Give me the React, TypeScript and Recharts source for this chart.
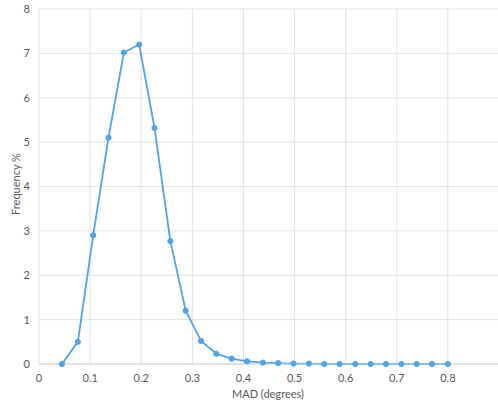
import { CartesianGrid, Label, Line, LineChart, XAxis, YAxis } from "recharts";

const madValues = [
  0.045, 0.076, 0.106, 0.136, 0.166, 0.196, 0.226, 0.257, 0.287, 0.317, 0.347,
  0.377, 0.407, 0.438, 0.468, 0.498, 0.528, 0.558, 0.588, 0.619, 0.649, 0.679,
  0.709, 0.739, 0.769, 0.8,
];
const frequency = [
  0, 0.5, 2.9, 5.1, 7.02, 7.2, 5.32, 2.77, 1.2, 0.52, 0.23, 0.12, 0.06, 0.03,
  0.02, 0.01, 0.01, 0, 0, 0, 0, 0, 0, 0, 0, 0,
];
const xTicks = [0, 0.1, 0.2, 0.3, 0.4, 0.5, 0.6, 0.7, 0.8];
const yTicks = [0, 1, 2, 3, 4, 5, 6, 7, 8];

const data = madValues.map((x, i) => ({ x, y: frequency[i] }));

const font = "Lato, 'Liberation Sans', sans-serif";
const tickStyle = { fontSize: 11, fill: "#595959", fontFamily: font };

export default function App() {
  return (
    <div
      style={{
        position: "absolute",
        left: 0,
        top: 0,
        width: 498,
        height: 408,
        overflow: "hidden",
        background: "#fff",
      }}
    >
      <LineChart
        width={499}
        height={404}
        data={data}
        margin={{ top: 9, right: 0, bottom: 0, left: 0 }}
      >
        <CartesianGrid stroke="#e3e3e3" strokeWidth={1} />
        <XAxis
          type="number"
          dataKey="x"
          domain={[0, 0.9]}
          ticks={xTicks}
          tickLine={false}
          tickSize={0}
          tickMargin={10}
          height={40}
          stroke="#d4d4d4"
          tick={tickStyle}
          interval={0}
        >
          <Label
            content={() => (
              <text
                x={268}
                y={398}
                textAnchor="middle"
                fontSize={11}
                fill="#595959"
                fontFamily={font}
              >
                MAD (degrees)
              </text>
            )}
          />
        </XAxis>
        <YAxis
          type="number"
          domain={[0, 8]}
          ticks={yTicks}
          width={39}
          axisLine={false}
          tickLine={false}
          tickSize={0}
          tickMargin={9}
          tick={tickStyle}
          interval={0}
        >
          <Label
            content={() => (
              <text
                x={17}
                y={184}
                transform="rotate(-90 17 184)"
                textAnchor="middle"
                dominantBaseline="middle"
                fontSize={11}
                fill="#595959"
                fontFamily={font}
              >
                Frequency %
              </text>
            )}
          />
        </YAxis>
        <Line
          type="linear"
          dataKey="y"
          stroke="#4ea5ec"
          strokeWidth={1.8}
          dot={{ r: 2.6, fill: "#4ea5ec", stroke: "#4ea5ec", strokeWidth: 1 }}
          activeDot={false}
          isAnimationActive={false}
        />
      </LineChart>
    </div>
  );
}
